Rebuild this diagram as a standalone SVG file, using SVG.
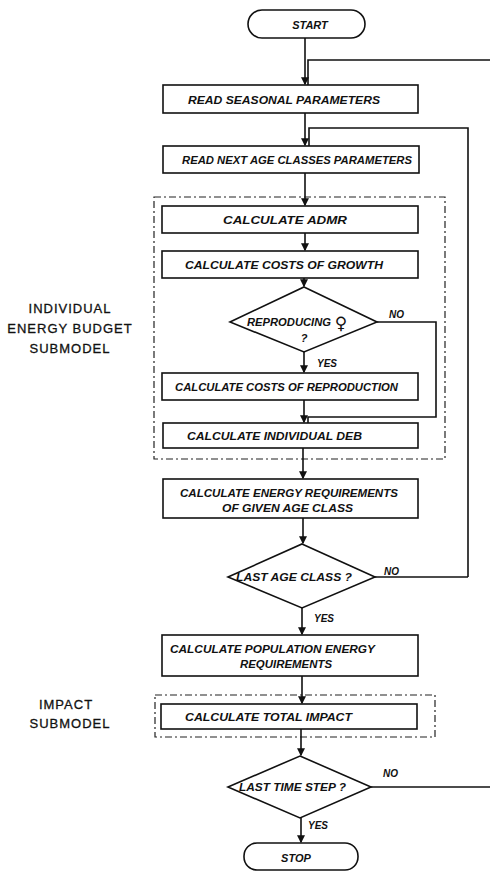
<svg xmlns="http://www.w3.org/2000/svg" width="490" height="871" viewBox="0 0 490 871">
<style>
.bx{fill:#fff;stroke:#111;stroke-width:1.6}
.sub{fill:none;stroke:#222;stroke-width:1.2;stroke-dasharray:7,3,2,3}
.ln{fill:none;stroke:#111;stroke-width:1.6}
.t{font-family:"Liberation Sans",Arial,sans-serif;font-weight:bold;font-style:italic;font-size:11px;fill:#111}
.lab{font-family:"Liberation Sans",Arial,sans-serif;font-size:13px;fill:#111;letter-spacing:1px;stroke:#111;stroke-width:0.3}
.yn{font-family:"Liberation Sans",Arial,sans-serif;font-weight:bold;font-style:italic;font-size:10px;fill:#111}
.sym{font-family:"DejaVu Sans",sans-serif;font-size:17px;fill:#111}
</style>
<defs>
<marker id="ah" viewBox="0 0 6 6" refX="5" refY="3" markerWidth="5" markerHeight="5" orient="auto"><path d="M0,0 L6,3 L0,6 z" fill="#111"/></marker>
</defs>
<g id="labels">
<text class="lab" x="70" y="313" text-anchor="middle">INDIVIDUAL</text>
<text class="lab" x="70" y="333" text-anchor="middle">ENERGY BUDGET</text>
<text class="lab" x="70" y="353" text-anchor="middle">SUBMODEL</text>
<text class="lab" x="66" y="709" text-anchor="middle">IMPACT</text>
<text class="lab" x="70" y="728" text-anchor="middle">SUBMODEL</text>
</g>
<g id="submodels">
<rect class="sub" x="154" y="197" width="291" height="262"/>
<rect class="sub" x="155" y="695" width="280" height="42"/>
</g>
<g id="connectors">
<path class="ln" d="M305,38 V84" marker-end="url(#ah)"/>
<path class="ln" d="M490,60 H308 V85"/>
<path class="ln" d="M305,113 V145" marker-end="url(#ah)"/>
<path class="ln" d="M468,577 V128 H309 V146"/>
<path class="ln" d="M305,173 V205" marker-end="url(#ah)"/>
<path class="ln" d="M305,233 V250" marker-end="url(#ah)"/>
<path class="ln" d="M304,278 V286" marker-end="url(#ah)"/>
<path class="ln" d="M304,352 V372" marker-end="url(#ah)"/>
<path class="ln" d="M377,322 H436 V417 H308 V423"/>
<path class="ln" d="M304,400 V422" marker-end="url(#ah)"/>
<path class="ln" d="M303,448 V478" marker-end="url(#ah)"/>
<path class="ln" d="M303,518 V543" marker-end="url(#ah)"/>
<path class="ln" d="M375,577 H468"/>
<path class="ln" d="M302,608 V634" marker-end="url(#ah)"/>
<path class="ln" d="M302,676 V703" marker-end="url(#ah)"/>
<path class="ln" d="M301,729 V755" marker-end="url(#ah)"/>
<path class="ln" d="M371,787 H490"/>
<path class="ln" d="M301,818 V842" marker-end="url(#ah)"/>
<text class="yn" x="389" y="318">NO</text>
<text class="yn" x="317" y="367">YES</text>
<text class="yn" x="384" y="575">NO</text>
<text class="yn" x="314" y="622">YES</text>
<text class="yn" x="383" y="777">NO</text>
<text class="yn" x="308" y="829">YES</text>
</g>
<g id="start">
<rect class="bx" x="248" y="10" width="117" height="28" rx="14"/>
<text class="t" x="310" y="29" text-anchor="middle" font-size="14">START</text>
</g>
<g id="read-seasonal">
<rect class="bx" x="163" y="85" width="255" height="28"/>
<text class="t" x="188" y="104" textLength="192" lengthAdjust="spacingAndGlyphs">READ SEASONAL PARAMETERS</text>
</g>
<g id="read-next">
<rect class="bx" x="163" y="146" width="256" height="27"/>
<text class="t" x="182" y="164" textLength="230" lengthAdjust="spacingAndGlyphs">READ NEXT AGE CLASSES PARAMETERS</text>
</g>
<g id="admr">
<rect class="bx" x="162" y="206" width="256" height="27"/>
<text class="t" x="223" y="224" textLength="124" lengthAdjust="spacingAndGlyphs">CALCULATE ADMR</text>
</g>
<g id="growth">
<rect class="bx" x="162" y="251" width="256" height="27"/>
<text class="t" x="185" y="269" textLength="198" lengthAdjust="spacingAndGlyphs">CALCULATE COSTS OF GROWTH</text>
</g>
<g id="reproducing">
<polygon class="bx" points="304,287 377,322 304,352 230,322"/>
<text class="t" x="247" y="326" textLength="84" lengthAdjust="spacingAndGlyphs">REPRODUCING</text>
<text class="sym" x="341" y="329" text-anchor="middle">♀</text>
<text class="t" x="304" y="342" text-anchor="middle">?</text>
</g>
<g id="reproduction">
<rect class="bx" x="162" y="373" width="256" height="27"/>
<text class="t" x="175" y="391" textLength="223" lengthAdjust="spacingAndGlyphs">CALCULATE COSTS OF REPRODUCTION</text>
</g>
<g id="deb">
<rect class="bx" x="163" y="423" width="255" height="25"/>
<text class="t" x="187" y="440" textLength="175" lengthAdjust="spacingAndGlyphs">CALCULATE INDIVIDUAL DEB</text>
</g>
<g id="energy-req">
<rect class="bx" x="163" y="479" width="255" height="39"/>
<text class="t" x="180" y="497" textLength="218" lengthAdjust="spacingAndGlyphs">CALCULATE ENERGY REQUIREMENTS</text>
<text class="t" x="222" y="512" textLength="131" lengthAdjust="spacingAndGlyphs">OF GIVEN AGE CLASS</text>
</g>
<g id="last-age">
<polygon class="bx" points="302,544 375,577 302,608 228,577"/>
<text class="t" x="236" y="581" textLength="116" lengthAdjust="spacingAndGlyphs">LAST AGE CLASS ?</text>
</g>
<g id="population">
<rect class="bx" x="162" y="635" width="256" height="41"/>
<text class="t" x="170" y="653" textLength="205" lengthAdjust="spacingAndGlyphs">CALCULATE POPULATION ENERGY</text>
<text class="t" x="240" y="668" textLength="92" lengthAdjust="spacingAndGlyphs">REQUIREMENTS</text>
</g>
<g id="total-impact">
<rect class="bx" x="161" y="704" width="256" height="25"/>
<text class="t" x="185" y="721" textLength="167" lengthAdjust="spacingAndGlyphs">CALCULATE TOTAL IMPACT</text>
</g>
<g id="last-time">
<polygon class="bx" points="300,756 371,787 300,818 228,787"/>
<text class="t" x="239" y="791" textLength="107" lengthAdjust="spacingAndGlyphs">LAST TIME STEP ?</text>
</g>
<g id="stop">
<rect class="bx" x="244" y="843" width="114" height="27" rx="13"/>
<text class="t" x="296" y="862" text-anchor="middle" font-size="14">STOP</text>
</g>
</svg>
